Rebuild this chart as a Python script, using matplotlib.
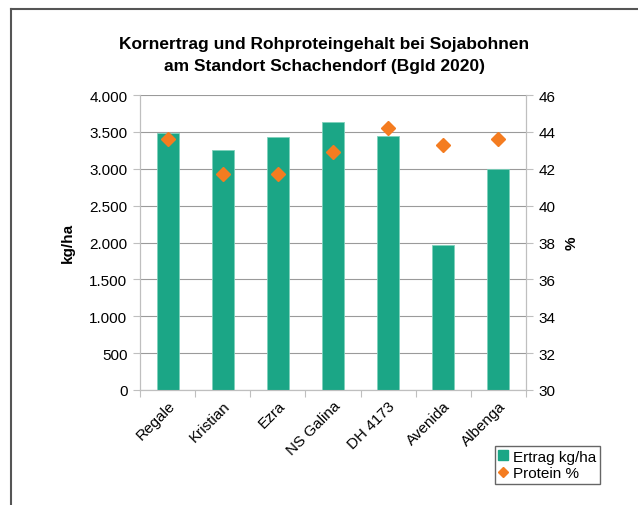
import matplotlib.pyplot as plt
from matplotlib.lines import Line2D
from matplotlib.ticker import FuncFormatter

plt.rcParams['font.family'] = ['Liberation Sans', 'DejaVu Sans']

sorten = ['Regale', 'Kristian', 'Ezra', 'NS Galina', 'DH 4173', 'Avenida', 'Albenga']
ertrag = [3480, 3255, 3425, 3630, 3450, 1965, 2995]
protein = [43.6, 41.7, 41.7, 42.9, 44.2, 43.3, 43.6]

bar_col = '#1BA686'
dot_col = '#F47C20'
axis_col = '#BFBFBF'
grid_col = '#9A9A9A'

fig = plt.figure(figsize=(6.38, 5.06), dpi=100)
W, H = 638, 506
ax = fig.add_axes([140 / W, 1 - 391 / H, 386 / W, 295 / H])
ax2 = ax.twinx()

x = range(len(sorten))
ax.bar(x, ertrag, width=0.4, color=bar_col, edgecolor='#7FD1BC', linewidth=0.6, zorder=3)
ax2.plot(x, protein, linestyle='none', marker='D', markersize=7, color=dot_col, zorder=4)

ax.set_xlim(-0.5, len(sorten) - 0.5)
ax.set_ylim(0, 4000)
ax.set_yticks(range(0, 4001, 500))
ax.yaxis.set_major_formatter(FuncFormatter(lambda v, p: f'{int(v):,}'.replace(',', '.')))
ax2.set_ylim(30, 46)
ax2.set_yticks(range(30, 47, 2))

ax.grid(axis='y', color=grid_col, linewidth=0.8, zorder=0)
ax.set_axisbelow(True)

# category borders carry the tick marks, names sit on minor ticks
ax.set_xticks([i - 0.5 for i in range(len(sorten) + 1)], minor=False)
ax.set_xticklabels([])
ax.set_xticks(list(x), minor=True)
ax.set_xticklabels(sorten, minor=True, rotation=45, ha='right', va='top',
                   rotation_mode='anchor', fontsize=11)
ax.tick_params(axis='x', which='minor', length=0, pad=6)
ax.tick_params(axis='x', which='major', length=5, color=axis_col, direction='out')

for a in (ax, ax2):
    for s in a.spines.values():
        s.set_color(axis_col)
    a.spines['top'].set_visible(False)
ax.tick_params(axis='y', length=5, color=axis_col, labelsize=11, pad=4)
ax2.tick_params(axis='y', length=5, color=axis_col, labelsize=11, pad=4)

fig.text(68 / W, 1 - 243 / H, 'kg/ha', rotation=90, ha='center', va='center',
         fontsize=11, fontweight='bold')
fig.text(572 / W, 1 - 243 / H, '%', rotation=90, ha='center', va='center',
         fontsize=11, fontweight='bold')

fig.text(324 / W, 1 - 45 / H, 'Kornertrag und Rohproteingehalt bei Sojabohnen',
         ha='center', va='center', fontsize=12.5, fontweight='bold')
fig.text(324 / W, 1 - 67 / H, 'am Standort Schachendorf (Bgld 2020)',
         ha='center', va='center', fontsize=12.5, fontweight='bold')

handles = [Line2D([], [], linestyle='none', marker='s', markersize=7, color=bar_col),
           Line2D([], [], linestyle='none', marker='D', markersize=5, color=dot_col)]
fig.legend(handles, ['Ertrag kg/ha', 'Protein %'], loc='upper left',
           bbox_to_anchor=(495 / W, 1 - 447 / H), fontsize=11, frameon=True,
           fancybox=False, edgecolor='#404040', handlelength=0.6, handletextpad=0.3,
           borderpad=0.25, labelspacing=0.15, borderaxespad=0)

fig.add_artist(Line2D([11 / W, 1], [1 - 9.5 / H, 1 - 9.5 / H], color='#555555', linewidth=1.5))
fig.add_artist(Line2D([11 / W, 11 / W], [0, 1 - 9.5 / H], color='#555555', linewidth=1.5))

fig.savefig('out.png', dpi=100)
